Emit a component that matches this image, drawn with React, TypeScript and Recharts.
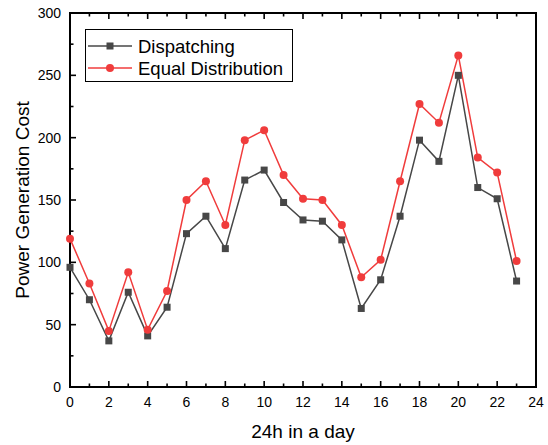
import { LineChart, Line, XAxis, YAxis, ReferenceArea } from "recharts";

const hours = [0, 1, 2, 3, 4, 5, 6, 7, 8, 9, 10, 11, 12, 13, 14, 15, 16, 17, 18, 19, 20, 21, 22, 23];
const dispatching = [96, 70, 37, 76, 41, 64, 123, 137, 111, 166, 174, 148, 134, 133, 118, 63, 86, 137, 198, 181, 250, 160, 151, 85];
const equalDistribution = [119, 83, 45, 92, 46, 77, 150, 165, 130, 198, 206, 170, 151, 150, 130, 88, 102, 165, 227, 212, 266, 184, 172, 101];
const xTicks = [0, 1, 2, 3, 4, 5, 6, 7, 8, 9, 10, 11, 12, 13, 14, 15, 16, 17, 18, 19, 20, 21, 22, 23, 24];
const yTicks = [0, 25, 50, 75, 100, 125, 150, 175, 200, 225, 250, 275, 300];
const seriesNames = ["Dispatching", "Equal Distribution"];

const GREY = "#474747";
const RED = "#f03c3c";
const FONT = "'Liberation Sans', Arial, sans-serif";

const data = hours.map((h, i) => ({
  hour: h,
  dispatching: dispatching[i],
  equal: equalDistribution[i],
}));

const MAJOR = 6;
const MINOR = 3.5;

function BottomTick({ x, y, payload }: any) {
  const major = payload.value % 2 === 0;
  return (
    <g>
      <line x1={x} y1={y} x2={x} y2={y - (major ? MAJOR : MINOR)} stroke="#000" strokeWidth={1.6} />
      {major && (
        <text x={x} y={y + 20} textAnchor="middle" fontSize={14} fontFamily={FONT} fill="#000">
          {payload.value}
        </text>
      )}
    </g>
  );
}

function TopTick({ x, y, payload }: any) {
  const major = payload.value % 2 === 0;
  return <line x1={x} y1={y} x2={x} y2={y + (major ? MAJOR : MINOR)} stroke="#000" strokeWidth={1.6} />;
}

function LeftTick({ x, y, payload }: any) {
  const major = payload.value % 50 === 0;
  return (
    <g>
      <line x1={x} y1={y} x2={x + (major ? MAJOR : MINOR)} y2={y} stroke="#000" strokeWidth={1.6} />
      {major && (
        <text x={x - 9} y={y + 5} textAnchor="end" fontSize={14} fontFamily={FONT} fill="#000">
          {payload.value}
        </text>
      )}
    </g>
  );
}

function RightTick({ x, y, payload }: any) {
  const major = payload.value % 50 === 0;
  return <line x1={x} y1={y} x2={x - (major ? MAJOR : MINOR)} y2={y} stroke="#000" strokeWidth={1.6} />;
}

function YTitle({ viewBox }: any) {
  const cx = viewBox.x + 22;
  const cy = viewBox.y + viewBox.height / 2;
  return (
    <text
      x={cx}
      y={cy}
      transform={`rotate(-90, ${cx}, ${cy})`}
      textAnchor="middle"
      dominantBaseline="central"
      fontSize={19}
      fontFamily={FONT}
      fill="#000"
    >
      Power Generation Cost
    </text>
  );
}

function SquareDot({ cx, cy }: any) {
  return <rect x={cx - 3.5} y={cy - 3.5} width={7} height={7} fill={GREY} />;
}

function CircleDot({ cx, cy }: any) {
  return <circle cx={cx} cy={cy} r={4} fill={RED} />;
}

function LegendBox() {
  const colors = [GREY, RED];
  return (
    <svg width={210} height={55} style={{ position: "absolute", left: 85, top: 29 }}>
      <rect x={0.5} y={0.5} width={207} height={52} fill="#fff" stroke="#000" strokeWidth={1} />
      {seriesNames.map((name, i) => {
        const cy = 17 + i * 22;
        return (
          <g key={name}>
            <line x1={3} y1={cy} x2={47} y2={cy} stroke={colors[i]} strokeWidth={1.5} />
            {i === 0 ? (
              <rect x={21.5} y={cy - 3.5} width={7} height={7} fill={GREY} />
            ) : (
              <circle cx={25} cy={cy} r={4} fill={RED} />
            )}
            <text x={53} y={cy + 6.5} fontSize={18.5} fontFamily={FONT} fill="#000">
              {name}
            </text>
          </g>
        );
      })}
    </svg>
  );
}

export default function App() {
  return (
    <div style={{ position: "absolute", left: 0, top: 0, width: 548, height: 445, background: "#fff" }}>
      <LineChart width={548} height={445} data={data} margin={{ top: 0, right: 0, bottom: 0, left: 0 }}>
        <XAxis
          xAxisId="bottom"
          dataKey="hour"
          type="number"
          domain={[0, 24]}
          ticks={xTicks}
          interval={0}
          height={58}
          tickSize={0}
          tickMargin={0}
          tickLine={false}
          tick={<BottomTick />}
          axisLine={false}
          label={{ value: "24h in a day", position: "insideBottom", offset: 7, fontSize: 19, fontFamily: FONT, fill: "#000" }}
        />
        <XAxis
          xAxisId="top"
          orientation="top"
          dataKey="hour"
          type="number"
          domain={[0, 24]}
          ticks={xTicks}
          interval={0}
          height={13}
          tickSize={0}
          tickMargin={0}
          tickLine={false}
          tick={<TopTick />}
          axisLine={false}
        />
        <YAxis
          yAxisId="left"
          type="number"
          domain={[0, 300]}
          ticks={yTicks}
          interval={0}
          width={70}
          tickSize={0}
          tickMargin={0}
          tickLine={false}
          tick={<LeftTick />}
          axisLine={false}
          label={{ content: <YTitle /> }}
        />
        <YAxis
          yAxisId="right"
          orientation="right"
          type="number"
          domain={[0, 300]}
          ticks={yTicks}
          interval={0}
          width={12}
          tickSize={0}
          tickMargin={0}
          tickLine={false}
          tick={<RightTick />}
          axisLine={false}
        />
        <ReferenceArea
          xAxisId="bottom"
          yAxisId="left"
          x1={0}
          x2={24}
          y1={0}
          y2={300}
          fill="none"
          fillOpacity={0}
          stroke="#000"
          strokeWidth={2}
          strokeOpacity={1}
          ifOverflow="visible"
        />
        <Line
          xAxisId="bottom"
          yAxisId="left"
          type="linear"
          dataKey="dispatching"
          name={seriesNames[0]}
          stroke={GREY}
          strokeWidth={1.5}
          dot={<SquareDot />}
          activeDot={false}
          isAnimationActive={false}
        />
        <Line
          xAxisId="bottom"
          yAxisId="left"
          type="linear"
          dataKey="equal"
          name={seriesNames[1]}
          stroke={RED}
          strokeWidth={1.5}
          dot={<CircleDot />}
          activeDot={false}
          isAnimationActive={false}
        />
      </LineChart>
      <LegendBox />
    </div>
  );
}
